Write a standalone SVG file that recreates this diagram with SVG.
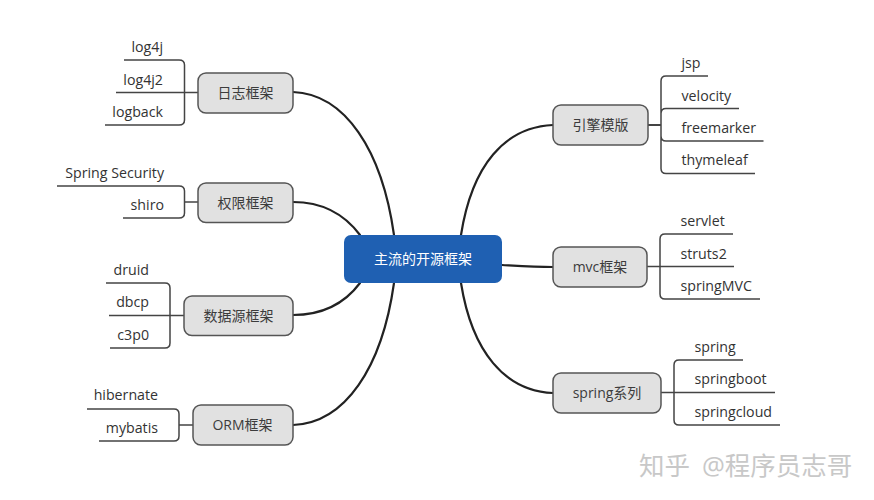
<svg xmlns="http://www.w3.org/2000/svg" width="874" height="500" viewBox="0 0 874 500">
<style>
.bg{fill:#fff}
.c{fill:none;stroke:#222;stroke-width:2.2;stroke-linecap:round}
.b{fill:none;stroke:#444;stroke-width:1.5}
.s{fill:none;stroke:#444;stroke-width:2}
.n{fill:#e1e1e1;stroke:#555;stroke-width:1.5}
.r{fill:#1f60b2}
text{font-family:"Open Sans","Noto Sans CJK SC",sans-serif;font-size:14.200px;fill:#333}
.t{text-anchor:middle;font-size:14px;fill:#3c3c3c}
.e{text-anchor:end}
.w{fill:#fff;text-anchor:middle;font-size:14px}
.m{font-size:25.500px;fill:#c8c8c8}
</style>
<rect class="bg" width="874" height="500"/>
<g id="connectors">
<path class="c" d="M293 92C345 94 382 150 394 235"/>
<path class="c" d="M293 202C323 202 345 215 360 235"/>
<path class="c" d="M293 315C323 315 345 303 360 283"/>
<path class="c" d="M293 425C345 423 382 368 394 283"/>
<path class="c" d="M553 125C505 127 472 165 461 235"/>
<path class="c" d="M502 265C520 266 535 267 553 267"/>
<path class="c" d="M553 393C505 391 472 352 461 283"/>
<path class="b" d="M124 60H179Q184.500 60 184.500 65V120Q184.500 125 179 125H105M116 92.500H198"/>
<path class="b" d="M57 186H179Q184.500 186 184.500 191V213Q184.500 218 179 218H123M184.500 202H198"/>
<path class="b" d="M106 283H165Q170 283 170 288V343Q170 348 165 348H110M109 315.500H184"/>
<path class="b" d="M87 409H174Q179 409 179 414V436Q179 441 174 441H99M179 425H193"/>
<path class="b" d="M708 76H666Q661 76 661 81V168.500Q661 173.500 666 173.500H755M739 108.500H666Q661 108.500 661 113.500V136Q661 141 666 141H763.500"/>
<path class="s" d="M648 125H661"/>
<path class="b" d="M733 234H665Q660 234 660 239V294Q660 299 665 299H760M734 266.500H647"/>
<path class="b" d="M743 360H679Q674 360 674 365V420Q674 425 679 425H780M775 392.500H661"/>
</g>
<g id="root"><rect class="r" x="344" y="235" width="158" height="48" rx="7"/><text class="w" x="423" y="264">主流的开源框架</text></g>
<g id="n-log"><rect class="n" x="198" y="73" width="95" height="40" rx="8"/><text class="t" x="245.500" y="98">日志框架</text>
<text class="e" x="163" y="52">log4j</text><text class="e" x="163" y="85">log4j2</text><text class="e" x="163" y="117">logback</text></g>
<g id="n-auth"><rect class="n" x="198" y="183" width="95" height="39.500" rx="8"/><text class="t" x="245.500" y="208">权限框架</text>
<text class="e" x="164" y="178">Spring Security</text><text class="e" x="164" y="210">shiro</text></g>
<g id="n-ds"><rect class="n" x="184" y="296" width="109" height="39.500" rx="8"/><text class="t" x="238.500" y="321">数据源框架</text>
<text class="e" x="149" y="275">druid</text><text class="e" x="149" y="307">dbcp</text><text class="e" x="149" y="340">c3p0</text></g>
<g id="n-orm"><rect class="n" x="193" y="405" width="100" height="40" rx="8"/><text class="t" x="242.500" y="430">ORM框架</text>
<text class="e" x="158" y="400">hibernate</text><text class="e" x="158" y="433">mybatis</text></g>
<g id="n-engine"><rect class="n" x="553" y="105" width="95" height="40" rx="8"/><text class="t" x="600.500" y="130">引擎模版</text>
<text x="681.500" y="68">jsp</text><text x="681.500" y="101">velocity</text><text x="681.500" y="133">freemarker</text><text x="681.500" y="165">thymeleaf</text></g>
<g id="n-mvc"><rect class="n" x="553" y="247" width="94" height="40" rx="8"/><text class="t" x="600" y="272">mvc框架</text>
<text x="680.500" y="226">servlet</text><text x="680.500" y="259">struts2</text><text x="680.500" y="291">springMVC</text></g>
<g id="n-spring"><rect class="n" x="553" y="373" width="108" height="40" rx="8"/><text class="t" x="607" y="398">spring系列</text>
<text x="694.500" y="352">spring</text><text x="694.500" y="384">springboot</text><text x="694.500" y="417">springcloud</text></g>
<text class="m" x="639" y="475">知乎</text><text class="m" x="702" y="475">@程序员志哥</text>
</svg>
